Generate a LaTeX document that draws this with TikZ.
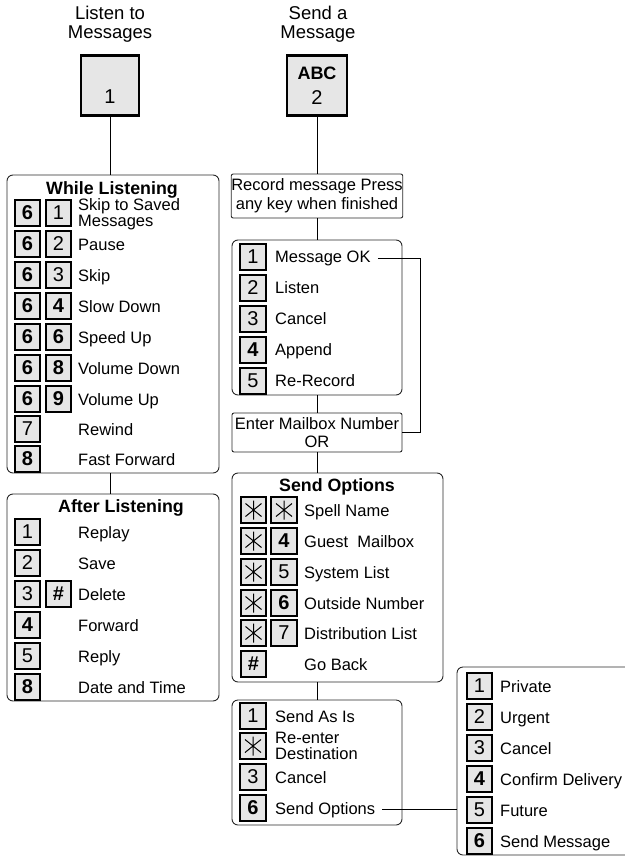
\documentclass[tikz,border=0pt]{standalone}
\usepackage{fontspec}
\setmainfont{Liberation Sans}
\definecolor{keyfill}{RGB}{230,230,230}
\definecolor{boxline}{RGB}{40,40,40}
\newcommand\bodyf{\fontsize{16.5}{16}\selectfont}
\newcommand\twof{\fontsize{16.5}{19}\selectfont}
\newcommand\headf{\fontsize{18.5}{19}\selectfont}
\newcommand\keyf{\fontsize{20}{20}\selectfont}
\newcommand\astk[1]{\draw[astl] (#1.center) +(0,-9.5) -- +(0,9.5) +(-8,-6.5) -- +(8,6.5) +(-8,6.5) -- +(8,-6.5);}
\tikzset{
  box/.style={draw=boxline, line width=0.9pt, rounded corners=6pt, inner sep=0pt},
  sbox/.style={draw=boxline, line width=0.9pt, rounded corners=2pt, inner sep=0pt},
  key/.style={rectangle, draw=black, line width=2pt, fill=keyfill, minimum width=25.5pt, minimum height=26.5pt, inner sep=0pt, font=\keyf},
  bkey/.style={key, font=\keyf\bfseries},
  bigkey/.style={rectangle, draw=black, line width=2.8pt, fill=keyfill, inner sep=0pt},
  lbl/.style={anchor=base west, inner sep=0pt, font=\bodyf, align=left},
  ttl/.style={anchor=base, inner sep=0pt, font=\fontsize{17.8}{18}\selectfont\bfseries},
  conn/.style={draw=black, line width=0.9pt},
  astl/.style={draw=black, line width=1pt},
}
\begin{document}
\begin{tikzpicture}[x=1pt,y=-1pt]
\useasboundingbox (0,0) rectangle (624,856);

% headings and top keys
\node[inner sep=0pt, font=\headf, align=center] (h1) at (110,24) {Listen to\\Messages};
\node[inner sep=0pt, font=\headf, align=center] (h2) at (318,24) {Send a\\Message};
\node[bigkey, minimum width=58pt, minimum height=60pt] (k1) at (110,85.5) {};
\node[font=\keyf, inner sep=0pt] (k1t) at (110,97) {1};
\node[bigkey, minimum width=60pt, minimum height=60pt] (k2) at (317,85.5) {};
\node[font=\fontsize{18}{18}\selectfont\bfseries, inner sep=0pt] (k2a) at (317,73.5) {ABC};
\node[font=\keyf, inner sep=0pt] (k2b) at (317,97.5) {2};

% ---------------- While Listening
\node[box, minimum width=212pt, minimum height=298pt] (wl) at (113,324) {};
\node[ttl] (wlt) at (112,194) {While Listening};
\node[bkey] (w1a) at (27.5,213) {6}; \node[key] (w1b) at (58.5,213) {1};
\node[lbl, font=\fontsize{16.5}{16}\selectfont] (w1l) at (78,226) {Skip to Saved\\Messages};
\node[bkey] (w2a) at (27.5,244) {6}; \node[key] (w2b) at (58.5,244) {2};
\node[lbl] (w2l) at (78,250) {Pause};
\node[bkey] (w3a) at (27.5,275) {6}; \node[key] (w3b) at (58.5,275) {3};
\node[lbl] (w3l) at (78,281) {Skip};
\node[bkey] (w4a) at (27.5,306) {6}; \node[bkey] (w4b) at (58.5,306) {4};
\node[lbl] (w4l) at (78,312) {Slow Down};
\node[bkey] (w5a) at (27.5,337) {6}; \node[bkey] (w5b) at (58.5,337) {6};
\node[lbl] (w5l) at (78,343) {Speed Up};
\node[bkey] (w6a) at (27.5,368) {6}; \node[bkey] (w6b) at (58.5,368) {8};
\node[lbl] (w6l) at (78,374) {Volume Down};
\node[bkey] (w7a) at (27.5,399) {6}; \node[bkey] (w7b) at (58.5,399) {9};
\node[lbl] (w7l) at (78,405) {Volume Up};
\node[key] (w8a) at (27.5,429) {7};
\node[lbl] (w8l) at (78,435) {Rewind};
\node[bkey] (w9a) at (27.5,459) {8};
\node[lbl] (w9l) at (78,465) {Fast Forward};

% ---------------- After Listening
\node[box, minimum width=212pt, minimum height=207pt] (al) at (113,597.5) {};
\node[ttl] (alt) at (121,512) {After Listening};
\node[key] (a1) at (27.5,532) {1}; \node[lbl] (a1l) at (78,538) {Replay};
\node[key] (a2) at (27.5,563) {2}; \node[lbl] (a2l) at (78,569) {Save};
\node[key] (a3) at (27.5,594) {3}; \node[bkey] (a3b) at (58.5,594) {\#};
\node[lbl] (a3l) at (78,600) {Delete};
\node[bkey] (a4) at (27.5,625) {4}; \node[lbl] (a4l) at (78,631) {Forward};
\node[key] (a5) at (27.5,656) {5}; \node[lbl] (a5l) at (78,662) {Reply};
\node[bkey] (a6) at (27.5,687) {8}; \node[lbl] (a6l) at (78,693) {Date and Time};

% ---------------- Send column
\node[sbox, minimum width=170pt, minimum height=44pt, font=\twof, align=center] (rec) at (317,196) {Record message Press\\any key when finished};

\node[box, minimum width=170pt, minimum height=155pt] (mok) at (317,317.5) {};
\node[key] (m1) at (253,257) {1}; \node[lbl] (m1l) at (275,262) {Message OK};
\node[key] (m2) at (253,288) {2}; \node[lbl] (m2l) at (275,293) {Listen};
\node[key] (m3) at (253,319) {3}; \node[lbl] (m3l) at (275,324) {Cancel};
\node[bkey] (m4) at (253,350) {4}; \node[lbl] (m4l) at (275,355) {Append};
\node[key] (m5) at (253,381) {5}; \node[lbl] (m5l) at (275,386) {Re-Record};

\node[sbox, minimum width=170pt, minimum height=39pt, font=\fontsize{16.5}{18}\selectfont, align=center] (emb) at (317,432.5) {Enter Mailbox Number\\OR};

\node[box, minimum width=211pt, minimum height=209pt] (so) at (337.5,577.5) {};
\node[ttl] (sot) at (337,491) {Send Options};
\node[key] (s1a) at (253.5,510) {}; \node[key] (s1b) at (284,510) {};
\node[lbl] (s1l) at (304,516) {Spell Name};
\node[key] (s2a) at (253.5,541) {}; \node[bkey] (s2b) at (284,541) {4};
\node[lbl] (s2l) at (304,547) {Guest\ \ Mailbox};
\node[key] (s3a) at (253.5,572) {}; \node[key] (s3b) at (284,572) {5};
\node[lbl] (s3l) at (304,578) {System List};
\node[key] (s4a) at (253.5,603) {}; \node[bkey] (s4b) at (284,603) {6};
\node[lbl] (s4l) at (304,609) {Outside Number};
\node[key] (s5a) at (253.5,633) {}; \node[key] (s5b) at (284,633) {7};
\node[lbl] (s5l) at (304,639) {Distribution List};
\node[bkey] (s6a) at (253.5,664) {\#};
\node[lbl] (s6l) at (304,670) {Go Back};
\astk{s1a}\astk{s1b}\astk{s2a}\astk{s3a}\astk{s4a}\astk{s5a}

\node[box, minimum width=170pt, minimum height=125pt] (sai) at (317,762.5) {};
\node[key] (t1) at (253,716) {1}; \node[lbl] (t1l) at (275,722) {Send As Is};
\node[key] (t2) at (253,746) {}; \node[lbl] (t2l) at (275,759) {Re-enter\\Destination};
\astk{t2}
\node[key] (t3) at (253,777) {3}; \node[lbl] (t3l) at (275,783) {Cancel};
\node[bkey] (t4) at (253,808) {6}; \node[lbl] (t4l) at (275,814) {Send Options};

% ---------------- right box
\node[box, minimum width=175pt, minimum height=188pt] (rt) at (544.5,761) {};
\node[key] (r1) at (479.5,686) {1}; \node[lbl] (r1l) at (500,692) {Private};
\node[key] (r2) at (479.5,717) {2}; \node[lbl] (r2l) at (500,723) {Urgent};
\node[key] (r3) at (479.5,748) {3}; \node[lbl] (r3l) at (500,754) {Cancel};
\node[bkey] (r4) at (479.5,779) {4}; \node[lbl] (r4l) at (500,785) {Confirm Delivery};
\node[key] (r5) at (479.5,810) {5}; \node[lbl] (r5l) at (500,816) {Future};
\node[bkey] (r6) at (479.5,841) {6}; \node[lbl] (r6l) at (500,847) {Send Message};

% ---------------- connectors
\draw[conn] (k1.south) -- (k1.south |- wl.north);
\draw[conn] (k1.south |- wl.south) -- (k1.south |- al.north);
\draw[conn] (k2.south) -- (rec.north);
\draw[conn] (rec.south) -- (mok.north);
\draw[conn] (mok.south) -- (emb.north);
\draw[conn] (emb.south) -- (emb.south |- so.north);
\draw[conn] (emb.south |- so.south) -- (sai.north);
\draw[conn] ([xshift=7pt]m1l.east) -| ([xshift=18pt]emb.east) -- (emb.east);
\draw[conn] ([xshift=7pt]t4l.east) -- (t4l.east -| rt.west);
\end{tikzpicture}
\end{document}
